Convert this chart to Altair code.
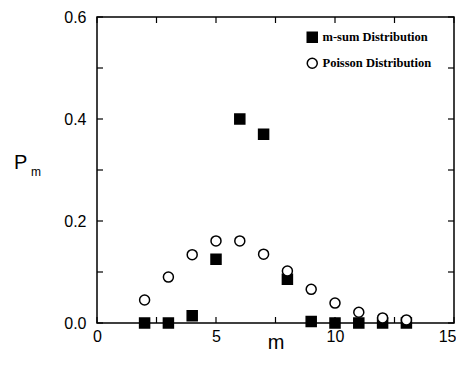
import altair as alt
import pandas as pd

m_values = [2, 3, 4, 5, 6, 7, 8, 9, 10, 11, 12, 13]
msum = [0.0, 0.0, 0.014, 0.125, 0.400, 0.370, 0.086, 0.003, 0.0, 0.0, 0.0, 0.0]
poisson = [0.045, 0.090, 0.134, 0.161, 0.161, 0.135, 0.102, 0.066, 0.039, 0.021, 0.010, 0.006]
series_names = ["m-sum Distribution", "Poisson Distribution"]
x_ticks = [0, 2.5, 5, 7.5, 10, 12.5, 15]
y_ticks = [0.0, 0.1, 0.2, 0.3, 0.4, 0.5, 0.6]

rows = []
for name, vals in zip(series_names, [msum, poisson]):
    for m, v in zip(m_values, vals):
        rows.append({"m": m, "P": v, "series": name})
df = pd.DataFrame(rows)
xt = pd.DataFrame({"v": x_ticks})
yt = pd.DataFrame({"v": y_ticks})

W, H, TICK = 357, 306, 6
FONT = "Liberation Sans"
xscale = alt.Scale(domain=[0, 15], nice=False, zero=False)
yscale = alt.Scale(domain=[0, 0.6], nice=False)

legend = alt.Legend(
    title=None, orient="none", legendX=209, legendY=14,
    labelFont="Liberation Serif", labelFontWeight="bold", labelFontSize=12.5,
    labelColor="black", symbolSize=100, symbolStrokeWidth=1.5,
    rowPadding=9, labelOffset=4, padding=0,
)

points = alt.Chart(df).mark_point(size=100, strokeWidth=1.5, opacity=1).encode(
    x=alt.X("m:Q", scale=xscale, axis=alt.Axis(
        orient="bottom", values=x_ticks, ticks=False,
        domain=False, grid=False, zindex=1,
        labelExpr="datum.value % 5 == 0 ? datum.label : ''",
        labelAlign={"condition": {"test": "datum.value == 15", "value": "right"}, "value": "center"},
        labelOffset={"condition": {"test": "datum.value == 15", "value": 2}, "value": 0},
        labelFont=FONT, labelFontSize=16, labelColor="black", labelPadding=5,
        title="m", titleFont=FONT, titleFontSize=20, titleFontWeight="normal",
        titleColor="black", titleBaseline="alphabetic", titleY=25)),
    y=alt.Y("P:Q", scale=yscale, axis=alt.Axis(
        orient="left", values=y_ticks, ticks=False,
        domain=False, grid=False, zindex=1, format=".1f",
        labelExpr="round(datum.value*10) % 2 == 0 ? datum.label : ''",
        labelFont=FONT, labelFontSize=16, labelColor="black", labelPadding=11,
        title=None)),
    shape=alt.Shape("series:N", scale=alt.Scale(domain=series_names, range=["square", "circle"]), legend=legend),
    fill=alt.Fill("series:N", scale=alt.Scale(domain=series_names, range=["black", "white"]), legend=legend),
    stroke=alt.Stroke("series:N", scale=alt.Scale(domain=series_names, range=["black", "black"]), legend=legend),
)

rule = dict(color="black", strokeWidth=1.2)
x_bottom = alt.Chart(xt).mark_rule(**rule).encode(
    x=alt.X("v:Q", scale=xscale, axis=None), y=alt.value(H), y2=alt.value(H - TICK))
x_top = alt.Chart(xt).mark_rule(**rule).encode(
    x=alt.X("v:Q", scale=xscale, axis=None), y=alt.value(0), y2=alt.value(TICK))
y_left = alt.Chart(yt).mark_rule(**rule).encode(
    y=alt.Y("v:Q", scale=yscale, axis=None), x=alt.value(0), x2=alt.value(TICK))
y_right = alt.Chart(yt).mark_rule(**rule).encode(
    y=alt.Y("v:Q", scale=yscale, axis=None), x=alt.value(W), x2=alt.value(W - TICK))

p_label = alt.Chart(pd.DataFrame({"t": ["P"]})).mark_text(
    align="left", baseline="alphabetic", font=FONT, fontSize=20, color="black"
).encode(x=alt.value(-83), y=alt.value(152), text="t:N")

m_label = alt.Chart(pd.DataFrame({"t": ["m"]})).mark_text(
    align="left", baseline="alphabetic", font=FONT, fontSize=12, color="black"
).encode(x=alt.value(-66), y=alt.value(159), text="t:N")

chart = alt.layer(x_bottom, x_top, y_left, y_right, points, p_label, m_label).resolve_axis(
    x="independent", y="independent"
).properties(
    width=W, height=H,
    autosize=alt.AutoSizeParams(type="none"),
    padding={"left": 89, "top": 9, "right": 2, "bottom": 31},
).configure_view(stroke="black", strokeWidth=1.5)

chart.save("out.html", embed_options={"renderer": "svg", "actions": False})
